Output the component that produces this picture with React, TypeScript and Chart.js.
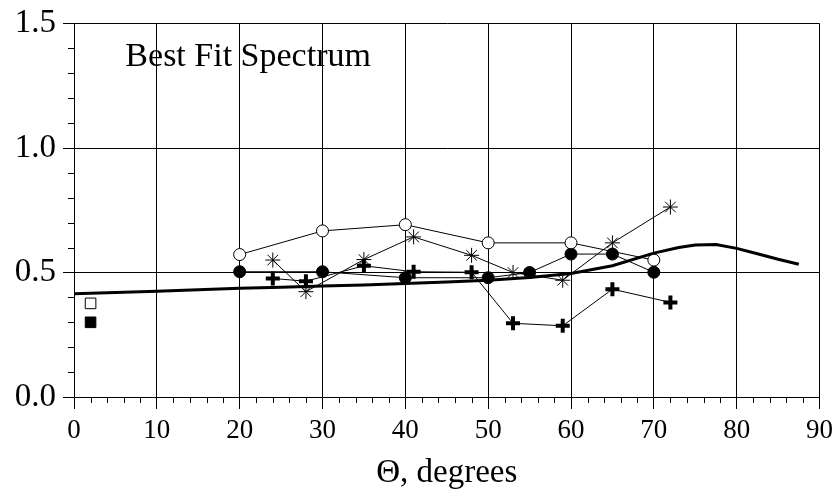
import React, { useEffect, useRef } from "react";
import { Chart, registerables } from "chart.js";
Chart.register(...registerables);

// Open circles
const openCircleX = [20, 30, 40, 50, 60, 70];
const openCircleY = [0.572, 0.667, 0.692, 0.619, 0.619, 0.55];
// Filled circles
const filledCircleX = [20, 30, 40, 50, 55, 60, 65, 70];
const filledCircleY = [0.503, 0.503, 0.479, 0.479, 0.5, 0.574, 0.574, 0.501];
// Asterisks
const starX = [24, 28, 35, 41, 48, 53, 59, 65, 72];
const starY = [0.55, 0.423, 0.552, 0.643, 0.569, 0.5, 0.469, 0.619, 0.763];
// Plus markers
const plusX = [24, 28, 35, 41, 48, 53, 59, 65, 72];
const plusY = [0.476, 0.465, 0.527, 0.503, 0.501, 0.296, 0.286, 0.433, 0.38];
// Best fit spectrum curve
const fitX = [0, 5, 10, 15, 20, 25, 30, 35, 40, 45, 50, 55, 60, 65, 70, 73, 75, 77.5, 80, 82.5, 85, 87.5];
const fitY = [0.415, 0.42, 0.425, 0.431, 0.437, 0.441, 0.446, 0.45, 0.456, 0.462, 0.469, 0.48, 0.496, 0.527, 0.578, 0.6, 0.61, 0.612, 0.597, 0.575, 0.553, 0.533];
// Squares
const openSquareX = [2];
const openSquareY = [0.376];
const filledSquareX = [2];
const filledSquareY = [0.3];

const xTicks = [0, 10, 20, 30, 40, 50, 60, 70, 80, 90];
const yTicks = [0.0, 0.5, 1.0, 1.5];
const annotationText = "Best Fit Spectrum";
const xTitle = "\u0398, degrees";

const SERIF = "'Liberation Serif', 'Times New Roman', serif";

const pts = (xs: number[], ys: number[]) => xs.map((x, i) => ({ x, y: ys[i] }));

export default function App() {
  const ref = useRef<HTMLCanvasElement | null>(null);
  useEffect(() => {
    if (!ref.current) return;
    const extras = {
      id: "extras",
      afterDraw(chart: any) {
        const { ctx, chartArea } = chart;
        const xs = chart.scales.x;
        const ys = chart.scales.y;
        ctx.save();
        ctx.strokeStyle = "#000";
        ctx.lineWidth = 1;
        ctx.beginPath();
        for (let v = 0; v <= 90; v += 2) {
          if (v % 10 === 0) continue;
          const px = Math.round(xs.getPixelForValue(v)) + 0.5;
          ctx.moveTo(px, chartArea.bottom);
          ctx.lineTo(px, chartArea.bottom + 6);
        }
        for (let k = 0; k <= 15; k++) {
          if (k % 5 === 0) continue;
          const py = Math.round(ys.getPixelForValue(k / 10)) + 0.5;
          ctx.moveTo(chartArea.left - 6, py);
          ctx.lineTo(chartArea.left, py);
        }
        ctx.stroke();
        ctx.fillStyle = "#000";
        ctx.font = "34px " + SERIF;
        ctx.textBaseline = "alphabetic";
        ctx.textAlign = "left";
        ctx.fillText(annotationText, xs.getPixelForValue(6.2), ys.getPixelForValue(1.328));
        ctx.restore();
      },
    };
    const chart = new Chart(ref.current, {
      type: "scatter",
      data: {
        datasets: [
          {
            data: pts(fitX, fitY),
            showLine: true,
            borderColor: "#000",
            borderWidth: 3,
            pointRadius: 0,
          },
          {
            data: pts(openCircleX, openCircleY),
            showLine: true,
            borderColor: "#000",
            borderWidth: 1,
            pointStyle: "circle",
            pointRadius: 6,
            pointBackgroundColor: "#fff",
            pointBorderColor: "#000",
            pointBorderWidth: 1,
          },
          {
            data: pts(filledCircleX, filledCircleY),
            showLine: true,
            borderColor: "#000",
            borderWidth: 1,
            pointStyle: "circle",
            pointRadius: 6,
            pointBackgroundColor: "#000",
            pointBorderColor: "#000",
            pointBorderWidth: 1,
          },
          {
            data: pts(starX, starY),
            showLine: true,
            borderColor: "#000",
            borderWidth: 1,
            pointStyle: "star",
            pointRadius: 7.5,
            pointBorderColor: "#000",
            pointBorderWidth: 1,
          },
          {
            data: pts(plusX, plusY),
            showLine: true,
            borderColor: "#000",
            borderWidth: 1,
            pointStyle: "cross",
            pointRadius: 7,
            pointBorderColor: "#000",
            pointBorderWidth: 4,
          },
          {
            data: pts(openSquareX, openSquareY),
            showLine: false,
            pointStyle: "rect",
            pointRadius: 7.5,
            pointBackgroundColor: "#fff",
            pointBorderColor: "#000",
            pointBorderWidth: 1,
          },
          {
            data: pts(filledSquareX, filledSquareY),
            showLine: false,
            pointStyle: "rect",
            pointRadius: 7.5,
            pointBackgroundColor: "#000",
            pointBorderColor: "#000",
            pointBorderWidth: 1,
          },
        ],
      },
      options: {
        responsive: false,
        animation: false,
        layout: { padding: { top: 23, right: 18, left: 0, bottom: 0 } },
        plugins: { legend: { display: false }, tooltip: { enabled: false }, title: { display: false } },
        scales: {
          x: {
            type: "linear",
            min: 0,
            max: 90,
            afterFit: (s: any) => { s.height = 98; },
            afterBuildTicks: (s: any) => { s.ticks = xTicks.map((v) => ({ value: v })); },
            ticks: {
              color: "#000",
              font: { family: SERIF, size: 27 },
              padding: 6,
              maxRotation: 0,
              callback: (v: any) => String(v),
            },
            grid: { color: "#000", lineWidth: 1, tickLength: 12, tickColor: "#000" },
            border: { display: true, color: "#000", width: 1 },
            title: {
              display: true,
              text: xTitle,
              color: "#000",
              font: { family: SERIF, size: 33 },
              padding: { top: 0, bottom: 2 },
            },
          },
          y: {
            type: "linear",
            min: 0,
            max: 1.5,
            afterFit: (s: any) => { s.width = 74; },
            afterBuildTicks: (s: any) => { s.ticks = yTicks.map((v) => ({ value: v })); },
            ticks: {
              color: "#000",
              font: { family: SERIF, size: 33, lineHeight: 1 },
              padding: 7,
              callback: (v: any) => Number(v).toFixed(1),
            },
            grid: { color: "#000", lineWidth: 1, tickLength: 11, tickColor: "#000" },
            border: { display: true, color: "#000", width: 1 },
          },
        },
      },
      plugins: [extras],
    } as any);
    return () => chart.destroy();
  }, []);
  return (
    <div style={{ position: "absolute", left: 0, top: 0, width: 839, height: 495, background: "#fff" }}>
      <canvas ref={ref} width={839} height={495} />
    </div>
  );
}
